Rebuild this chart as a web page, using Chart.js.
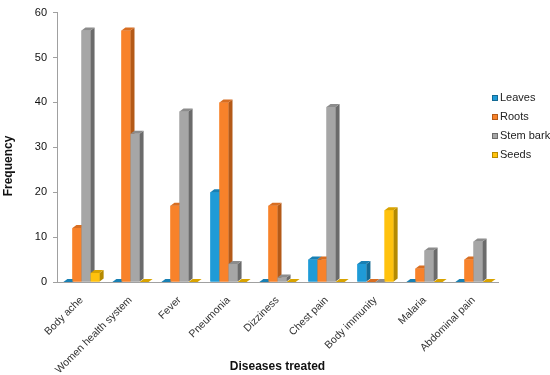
<!DOCTYPE html>
<html>
<head>
<meta charset="utf-8">
<script src="https://cdn.jsdelivr.net/npm/chart.js@4.4.1/dist/chart.umd.min.js"></script>
<style>
  html, body { margin: 0; padding: 0; background: #ffffff; }
  #wrap { width: 550px; height: 375px; }
</style>
</head>
<body>
<div id="wrap"><canvas id="c" width="550" height="375"></canvas></div>
<script>
const categories = ["Body ache", "Women health system", "Fever", "Pneumonia", "Dizziness", "Chest pain", "Body immunity", "Malaria", "Abdominal pain"];
const seriesNames = ["Leaves", "Roots", "Stem bark", "Seeds"];
const leaves   = [0, 0, 0, 20, 0, 5, 4, 0, 0];
const roots    = [12, 56, 17, 40, 17, 5, 0, 3, 5];
const stemBark = [56, 33, 38, 4, 1, 39, 0, 7, 9];
const seeds    = [2, 0, 0, 0, 0, 0, 16, 0, 0];
const yMin = 0, yMax = 60, yStep = 10;
const xTitle = "Diseases treated";
const yTitle = "Frequency";

const FONT = "'Liberation Sans', Arial, sans-serif";
const frontColors = ["#1f9bd7", "#f8822a", "#a6a6a6", "#ffc20e"];
const sideColors  = ["#146a94", "#b45a18", "#6b6b6b", "#b58a00"];
const topColors   = ["#1880b4", "#d86e22", "#8c8c8c", "#d9a300"];
const DX = 4, DY = 3;

const bar3d = {
  id: 'bar3d',
  afterDatasetsDraw(chart) {
    const ctx = chart.ctx;
    const metas = chart.data.datasets.map((d, i) => chart.getDatasetMeta(i));
    ctx.save();
    for (let j = 0; j < categories.length; j++) {
      for (let i = 0; i < metas.length; i++) {
        const el = metas[i].data[j];
        if (!el) continue;
        const p = el.getProps(['x', 'y', 'base', 'width'], true);
        const l = p.x - p.width / 2, r = p.x + p.width / 2;
        const top = Math.min(p.y, p.base), bot = Math.max(p.y, p.base);
        ctx.fillStyle = frontColors[i];
        ctx.fillRect(l, top, r - l, bot - top);
        ctx.fillStyle = sideColors[i];
        ctx.beginPath();
        ctx.moveTo(r, top); ctx.lineTo(r + DX, top - DY); ctx.lineTo(r + DX, bot - DY); ctx.lineTo(r, bot);
        ctx.closePath(); ctx.fill();
        ctx.fillStyle = topColors[i];
        ctx.beginPath();
        ctx.moveTo(l, top); ctx.lineTo(l + DX, top - DY); ctx.lineTo(r + DX, top - DY); ctx.lineTo(r, top);
        ctx.closePath(); ctx.fill();
      }
    }
    ctx.restore();
  },
  afterDraw(chart) {
    const ctx = chart.ctx;
    ctx.save();
    ctx.font = "11px " + FONT;
    ctx.textBaseline = 'middle';
    ctx.textAlign = 'left';
    const x0 = 492, y0 = 98, gap = 19;
    seriesNames.forEach((name, i) => {
      const y = y0 + i * gap;
      ctx.fillStyle = frontColors[i];
      ctx.fillRect(x0, y - 3, 6, 6);
      ctx.strokeStyle = sideColors[i];
      ctx.lineWidth = 1;
      ctx.strokeRect(x0 + 0.5, y - 2.5, 5, 5);
      ctx.fillStyle = '#222';
      ctx.fillText(name, x0 + 8, y);
    });
    ctx.translate(9, 166);
    ctx.rotate(-Math.PI / 2);
    ctx.font = "bold 12px " + FONT;
    ctx.textAlign = 'center';
    ctx.fillStyle = '#111';
    ctx.fillText(yTitle, 0, 0);
    ctx.restore();
  }
};

const series = [leaves, roots, stemBark, seeds];
new Chart(document.getElementById('c'), {
  type: 'bar',
  data: {
    labels: categories,
    datasets: series.map((s, i) => ({
      label: seriesNames[i],
      data: s,
      backgroundColor: frontColors[i],
      borderWidth: 0,
      categoryPercentage: 0.74,
      barPercentage: 1.0
    }))
  },
  options: {
    responsive: false,
    animation: false,
    layout: { padding: { left: 0, right: 52, top: 11, bottom: 0 } },
    plugins: { legend: { display: false }, tooltip: { enabled: false } },
    scales: {
      x: {
        grid: { display: false },
        border: { display: true, color: '#a0a0a0', width: 1 },
        ticks: { minRotation: 45, maxRotation: 45, padding: 4, color: '#333', font: { family: FONT, size: 10.5 }, autoSkip: false },
        title: { display: true, text: xTitle, color: '#111', font: { family: FONT, size: 12, weight: 'bold' }, padding: { top: 0, bottom: 1 } },
        afterFit(s) { s.height = 93; }
      },
      y: {
        min: yMin, max: yMax,
        grid: { display: true, drawOnChartArea: false, drawTicks: true, tickLength: 4, color: '#a0a0a0' },
        border: { display: true, color: '#a0a0a0', width: 1 },
        ticks: { stepSize: yStep, padding: 6, color: '#111', font: { family: FONT, size: 11 } },
        title: { display: false },
        afterFit(s) { s.width = 57; }
      }
    }
  },
  plugins: [bar3d]
});
</script>
</body>
</html>
